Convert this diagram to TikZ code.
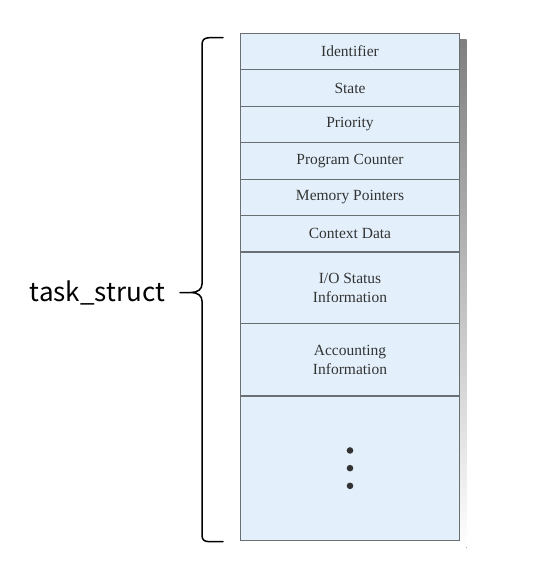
\documentclass[tikz,border=0pt]{standalone}
\usepackage{fontspec}
\setmainfont{Liberation Serif}
\newfontfamily\labelfont{Noto Sans CJK SC}
\usetikzlibrary{positioning}
\definecolor{rowfill}{HTML}{E3F0FB}
\definecolor{rowline}{HTML}{6A6F74}
\definecolor{rowtext}{HTML}{333333}
\definecolor{shade}{HTML}{C9CACC}
\tikzset{
  row/.style={draw=rowline, line width=1.2pt, fill=rowfill, text=rowtext,
    minimum width=218.6pt, inner sep=0pt, outer sep=0pt, align=center,
    font=\fontsize{15.5}{18.5}\selectfont},
  brace/.style={line width=1.5pt, line cap=round, line join=round},
}
\begin{document}
\begin{tikzpicture}[x=1pt,y=-1pt]
        \useasboundingbox (0,0) rectangle (556,578);
        % shadow behind the stack
        \fill[shade] (248,40) rectangle (466.5,547.5);
        \node[row, minimum height=36.45pt, anchor=north] (ident) at (350,33.3) {Identifier};
        \foreach \n/\h/\l [remember=\n as \prev (initially ident)] in
            {state/36.45/State, prio/36.45/Priority, pc/36.45/Program Counter,
             mem/36.45/Memory Pointers, ctx/36.45/Context Data,
             io/71.6/{I/O Status\\Information}, acct/72.4/{Accounting\\Information},
             rest/144.3/{}} {
            \node[row, minimum height=\h pt, below=0pt of \prev] (\n) {\l};
        }
        \foreach \d in {-17.7,0,17.7} {
            \fill[rowtext] (rest.center) ++(0,\d) circle (3.3);
        }
        % brace
        \coordinate (brtop) at (223,37.7);
        \coordinate (brbot) at (223,541.7);
        \coordinate (brtip) at (180,292.5);
        \draw[brace] (brtop) -- (209,37.7) .. controls (204,38) and (202,40) .. (202,45)
            -- (202,284) .. controls (202,289) and (198,292.5) .. (191,292.5) -- (brtip)
            (191,292.5) .. controls (198,292.5) and (202,296) .. (202,301)
            -- (202,535) .. controls (202,540) and (204,541.7) .. (210,541.7) -- (brbot);
        \node[anchor=base east, inner sep=0pt, font=\labelfont\fontsize{26}{30}\selectfont]
            (tasklabel) at (165,301.7) {task\_struct};
\end{tikzpicture}
\end{document}
